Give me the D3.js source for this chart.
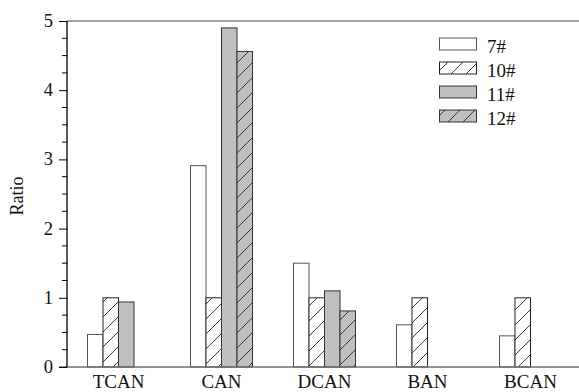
<!DOCTYPE html>
<html>
<head>
<meta charset="utf-8">
<script src="https://cdn.jsdelivr.net/npm/d3@7"></script>
<style>
  html, body { margin: 0; padding: 0; background: #fff; }
  svg { display: block; }
  text { font-family: "Liberation Serif", "Times New Roman", serif; fill: #111; }
</style>
</head>
<body>
<svg id="chart" width="579" height="392"></svg>
<script>
const categories = ["TCAN", "CAN", "DCAN", "BAN", "BCAN"];
const seriesNames = ["7#", "10#", "11#", "12#"];
const s7  = [0.47, 2.91, 1.50, 0.61, 0.45];
const s10 = [1.00, 1.00, 1.00, 1.00, 1.00];
const s11 = [0.94, 4.90, 1.10, null, null];
const s12 = [null, 4.56, 0.81, null, null];
const yTicks = [0, 1, 2, 3, 4, 5];
const seriesValues = [s7, s10, s11, s12];

(function () {
const styles = [
  { fill: "#ffffff", hatch: false, stroke: "#555" },
  { fill: "#ffffff", hatch: true,  stroke: "#222" },
  { fill: "#c0c0c0", hatch: false, stroke: "#333" },
  { fill: "#c0c0c0", hatch: true,  stroke: "#333" }
];

const svg = d3.select("#chart");
const mLeft = 67, mRight = 582, mTop = 21, mBottom = 367;

const x0 = d3.scaleBand().domain(categories).range([mLeft, mRight]);
const groupW = 62;
const x1 = d3.scaleBand().domain(seriesNames).range([0, groupW]);
const y = d3.scaleLinear().domain([0, 5]).range([mBottom, mTop]);

// hatch patterns
const defs = svg.append("defs");
styles.forEach((s, i) => {
  if (!s.hatch) return;
  const p = defs.append("pattern")
    .attr("id", "hatch" + i)
    .attr("patternUnits", "userSpaceOnUse")
    .attr("width", 15).attr("height", 15);
  p.append("rect").attr("width", 15).attr("height", 15).attr("fill", s.fill);
  p.append("path").attr("d", "M-1,16 L16,-1 M-4,4 L4,-4 M11,19 L19,11")
    .attr("stroke", "#222").attr("stroke-width", 0.9).attr("fill", "none");
});

// top frame line
svg.append("line").attr("x1", mLeft).attr("x2", 579).attr("y1", mTop).attr("y2", mTop)
  .attr("stroke", "#808080").attr("stroke-width", 1.3);

// bars
const data = [];
categories.forEach((c, ci) => {
  seriesNames.forEach((sn, si) => {
    const v = seriesValues[si][ci];
    if (v != null) data.push({ c, sn, si, v });
  });
});
svg.append("g").selectAll("rect").data(data).join("rect")
  .attr("x", d => x0(d.c) + (x0.bandwidth() - groupW) / 2 + x1(d.sn))
  .attr("y", d => y(d.v))
  .attr("width", x1.bandwidth())
  .attr("height", d => y(0) - y(d.v))
  .attr("fill", d => styles[d.si].hatch ? "url(#hatch" + d.si + ")" : styles[d.si].fill)
  .attr("stroke", d => styles[d.si].stroke)
  .attr("stroke-width", 1);

// bottom axis line
svg.append("line").attr("x1", mLeft - 8).attr("x2", 579).attr("y1", mBottom).attr("y2", mBottom)
  .attr("stroke", "#707070").attr("stroke-width", 1.3);

// y axis
const yAxis = d3.axisLeft(y).tickValues(yTicks).tickSize(8).tickPadding(6).tickFormat(d3.format("d"));
const gy = svg.append("g").attr("transform", `translate(${mLeft},0)`).call(yAxis);
gy.attr("font-family", null).attr("font-size", null);
gy.select(".domain").attr("stroke", "#000").attr("stroke-width", 1.3).attr("d", `M0,${mTop}V${mBottom}`);
gy.selectAll(".tick line").attr("stroke", "#000").attr("stroke-width", 1);
gy.selectAll(".tick text").attr("font-size", 18.5).attr("fill", "#111").attr("dy", "0.3em");
const minor = d3.range(0.25, 5, 0.25).filter(v => Math.abs(v - Math.round(v)) > 1e-6);
svg.append("g").selectAll("line").data(minor).join("line")
  .attr("x1", mLeft - 5).attr("x2", mLeft).attr("y1", d => y(d)).attr("y2", d => y(d))
  .attr("stroke", "#000").attr("stroke-width", 1);

// x labels
svg.append("g").selectAll("text").data(categories).join("text")
  .attr("x", d => x0(d) + x0.bandwidth() / 2)
  .attr("y", 388)
  .attr("text-anchor", "middle")
  .attr("font-size", 19)
  .text(d => d);

// y label
svg.append("text")
  .attr("transform", "translate(23,196) rotate(-90)")
  .attr("text-anchor", "middle")
  .attr("font-size", 18)
  .text("Ratio");

// legend
const lg = svg.append("g");
seriesNames.forEach((sn, i) => {
  const yy = 38 + i * 24;
  lg.append("rect").attr("x", 439.5).attr("y", yy).attr("width", 37).attr("height", 12)
    .attr("fill", styles[i].hatch ? "url(#hatch" + i + ")" : styles[i].fill)
    .attr("stroke", styles[i].stroke).attr("stroke-width", 1);
  lg.append("text").attr("x", 487).attr("y", yy + 14.5).attr("font-size", 19).text(sn);
});
})();
</script>
</body>
</html>
